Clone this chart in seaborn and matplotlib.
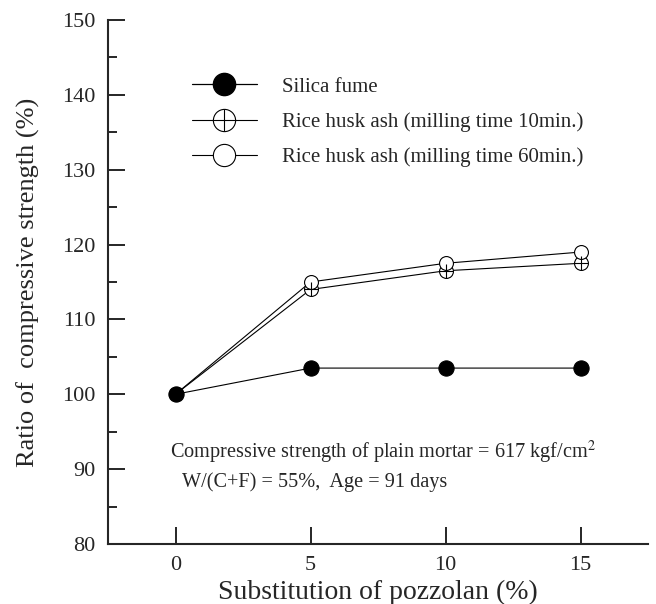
import matplotlib
matplotlib.use("Agg")
import matplotlib.pyplot as plt
import seaborn as sns
import pandas as pd
from matplotlib.lines import Line2D
from matplotlib.legend_handler import HandlerTuple

substitution = [0, 5, 10, 15]
silica_fume = [100, 103.5, 103.5, 103.5]
rha_10 = [100, 114, 116.5, 117.5]
rha_60 = [100, 115, 117.5, 119]
labels = ["Silica fume", "Rice husk ash (milling time 10min.)", "Rice husk ash (milling time 60min.)"]

sns.set_style("ticks")
plt.rcParams['font.family'] = ['Liberation Serif', 'DejaVu Serif']
plt.rcParams['mathtext.fontset'] = 'stix'

fig = plt.figure(figsize=(6.56, 6.04), dpi=100)
ax = fig.add_axes([108 / 656, 60 / 604, 540 / 656, 524 / 604])

df = pd.DataFrame({"x": substitution * 3,
                   "y": silica_fume + rha_10 + rha_60,
                   "s": [labels[0]] * 4 + [labels[1]] * 4 + [labels[2]] * 4})
d_sf = df[df.s == labels[0]]
d_10 = df[df.s == labels[1]]
d_60 = df[df.s == labels[2]]

ms = 10
sns.lineplot(data=d_10, x="x", y="y", color="black", lw=0.8,
             marker="o", markersize=ms, markerfacecolor="white", markeredgecolor="black",
             markeredgewidth=0.8, ax=ax)
sns.scatterplot(data=d_10, x="x", y="y", color="black", marker="+", s=ms ** 2,
                linewidth=0.8, ax=ax, zorder=3)
sns.lineplot(data=d_60, x="x", y="y", color="black", lw=0.8,
             marker="o", markersize=ms, markerfacecolor="white", markeredgecolor="black",
             markeredgewidth=0.8, ax=ax)
sns.lineplot(data=d_sf, x="x", y="y", color="black", lw=0.8,
             marker="o", markersize=ms + 1, markerfacecolor="black", markeredgecolor="black",
             ax=ax, zorder=6)

ax.set_xlim(-2.5, 17.5)
ax.set_ylim(80, 150)
ax.set_xticks(substitution)
ax.set_yticks(range(80, 151, 10))
ax.set_yticks(range(85, 150, 10), minor=True)
ax.tick_params(axis="both", direction="in", length=12.5, width=1.4, labelsize=16, pad=9)
ax.tick_params(axis="y", which="minor", direction="in", length=6.5, width=1.4)
for s in ["top", "right"]:
    ax.spines[s].set_visible(False)
for s in ["left", "bottom"]:
    ax.spines[s].set_linewidth(1.5)
ax.set_xlabel("Substitution of pozzolan (%)", fontsize=20, labelpad=3)
ax.set_ylabel("Ratio of  compressive strength (%)", fontsize=19, labelpad=16)

lm = 16
h1 = Line2D([], [], color="black", lw=0.9, marker="o", markersize=lm,
            markerfacecolor="black", markeredgecolor="black")
h2a = Line2D([], [], color="black", lw=0.8, marker="o", markersize=lm,
             markerfacecolor="white", markeredgecolor="black", markeredgewidth=0.8)
h2b = Line2D([], [], color="black", lw=0, marker="+", markersize=lm, markeredgewidth=0.8)
h3 = Line2D([], [], color="black", lw=0.8, marker="o", markersize=lm,
            markerfacecolor="white", markeredgecolor="black", markeredgewidth=0.8)
ax.legend([h1, (h2a, h2b), h3], labels, handler_map={tuple: HandlerTuple(ndivide=1, pad=0)},
          loc="upper left", bbox_to_anchor=(84 / 540, 1 - 57 / 524), frameon=False, fontsize=15,
          handlelength=3.1, labelspacing=0.75, handletextpad=1.2, borderpad=0, borderaxespad=0)

ax.text(62 / 540, (544 - 452) / 524, "Compressive strength of plain mortar = 617 kgf/cm$^{2}$",
        transform=ax.transAxes, fontsize=14.6, va="center")
ax.text(74 / 540, (544 - 482) / 524, "W/(C+F) = 55%,  Age = 91 days",
        transform=ax.transAxes, fontsize=14.6, va="center")

fig.savefig("out.png", dpi=100)
